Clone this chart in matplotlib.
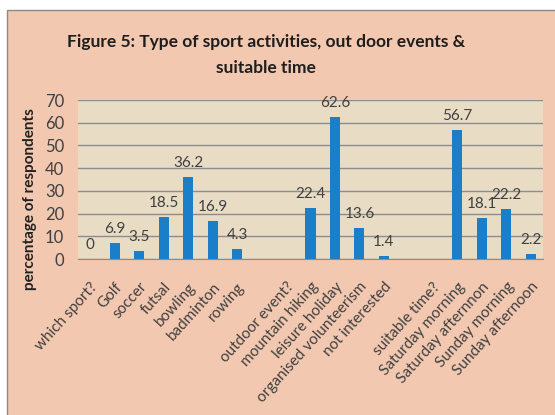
import matplotlib.pyplot as plt
import numpy as np
from matplotlib.patches import Rectangle

# ---- data ----
categories = ["which sport?", "Golf", "soccer", "futsal", "bowling", "badminton", "rowing", "",
              "outdoor event?", "mountain hiking", "leisure holiday", "organised volunteerism",
              "not interested", "", "suitable time?", "Saturday morning", "Saturday afternnon",
              "Sunday morning", "Sunday afternoon"]
values = [0, 6.9, 3.5, 18.5, 36.2, 16.9, 4.3, None,
          None, 22.4, 62.6, 13.6, 1.4, None,
          None, 56.7, 18.1, 22.2, 2.2]
yticks = [0, 10, 20, 30, 40, 50, 60, 70]

plt.rcParams['font.family'] = ['Lato', 'DejaVu Sans']

fig = plt.figure(figsize=(5.55, 4.15), dpi=100)
fig.patch.set_facecolor("white")
fig.patches.append(Rectangle((7 / 555, -0.01), 1.0, 1 - 10 / 415 + 0.01, transform=fig.transFigure,
                             facecolor="#f2c8b0", edgecolor="#8a8a8a", linewidth=1, zorder=-5))

ax = fig.add_axes([78 / 555, 1 - 259 / 415, 465 / 555, 159 / 415])
ax.set_zorder(2)
ax.set_facecolor("#e9dcc5")

x = np.arange(len(categories))
heights = [v if v is not None else 0 for v in values]
ax.bar(x, heights, width=0.41, color="#1a7fc8", zorder=3)

# data labels
for xi, v in zip(x, values):
    if v is None:
        continue
    ax.annotate(f"{v:g}", (xi, v), xytext=(0, 5), textcoords="offset points",
                ha="center", va="bottom", fontsize=11, color="#404040")

ax.set_xlim(-0.5, len(categories) - 0.5)
ax.set_ylim(0, 70)
ax.set_yticks(yticks)
ax.grid(axis="y", color="#8c8c8c", linewidth=1, zorder=1)
ax.set_xticks(x)
ax.set_xticklabels(categories, rotation=48, ha="right", rotation_mode="anchor",
                   fontsize=11, color="#404040")
ax.tick_params(axis="x", length=0, pad=15)
ax.tick_params(axis="y", length=0, labelsize=12, labelcolor="#404040", pad=10)
for side in ["top", "right", "left"]:
    ax.spines[side].set_visible(False)
ax.spines["bottom"].set_color("#8c8c8c")

ax.set_ylabel("percentage of respondents", fontsize=11, fontweight="bold", color="#222222")
ax.yaxis.set_label_coords(-0.088, 0.377)

fig.text(266 / 555, 1 - 42 / 415, "Figure 5: Type of sport activities, out door events &",
         ha="center", va="center", fontsize=12.5, fontweight="bold", color="#1e1e1e")
fig.text(266 / 555, 1 - 68 / 415, "suitable time",
         ha="center", va="center", fontsize=12.5, fontweight="bold", color="#1e1e1e")

fig.savefig("out.png", dpi=100, facecolor=fig.get_facecolor())
